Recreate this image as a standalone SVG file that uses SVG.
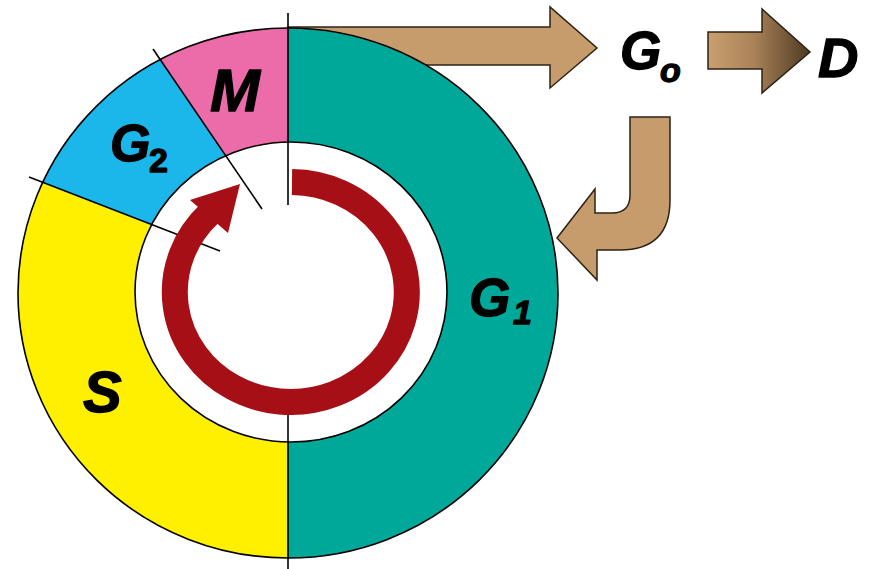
<svg xmlns="http://www.w3.org/2000/svg" width="870" height="569" viewBox="0 0 870 569">
  <style>
    .lbl { font-family: "Liberation Sans", Arial, sans-serif; font-weight: bold; font-style: italic; fill: #000; stroke: #000; stroke-width: 1.3; stroke-linejoin: round; }
    .edge { stroke: #000; stroke-width: 1.6; fill: none; }
    .tan { fill: #c69c6d; stroke: #2e2214; stroke-width: 1.5; stroke-linejoin: miter; }
  </style>
  <defs>
    <clipPath id="outerClip">
      <ellipse cx="288" cy="293" rx="270" ry="265"/>
    </clipPath>
    <linearGradient id="darkGrad" x1="0" y1="0" x2="1" y2="0">
      <stop offset="0" stop-color="#c9a06e"/>
      <stop offset="0.45" stop-color="#a98259"/>
      <stop offset="1" stop-color="#4e3923"/>
    </linearGradient>
  </defs>
  <rect width="870" height="569" fill="#ffffff"/>

  <!-- connector drawn behind the ring -->
  <g id="connectors-back">
    <polygon class="tan" points="288,27 550,27 550,7 597,48 550,88 550,65 288,65"/>
  </g>

  <g id="ring" clip-path="url(#outerClip)">
    <g id="phase-G1"><polygon points="288,0 870,0 870,569 288,569" fill="#00a89a"/></g>
    <g id="phase-M"><polygon points="120,0 288,0 288,247" fill="#ec6ca9"/></g>
    <g id="phase-G2"><polygon points="0,0 120,0 316,288 0,166" fill="#1cb7ea"/></g>
    <g id="phase-S"><polygon points="0,166 288,277 288,569 0,569" fill="#fff000"/></g>
  </g>
  <ellipse cx="288" cy="293" rx="270" ry="265" class="edge" stroke-width="2"/>
  <ellipse cx="291" cy="292" rx="156" ry="150" fill="#ffffff" stroke="#000" stroke-width="1.6"/>

  <g id="dividers">
    <line x1="288" y1="13" x2="288" y2="205" class="edge"/>
    <line x1="288" y1="415" x2="288" y2="569" class="edge"/>
    <line x1="153" y1="49" x2="262" y2="209" class="edge"/>
    <line x1="29" y1="177" x2="220" y2="251" class="edge"/>
  </g>

  <g id="cycle-arrow">
    <path d="M 292,182 A 116 110 0 1 1 209,214" fill="none" stroke="#a50f15" stroke-width="26"/>
    <polygon points="240,184 190,200 228,233" fill="#a50f15"/>
  </g>

  <g id="labels">
    <g id="label-M"><text class="lbl" x="210" y="111" font-size="60">M</text></g>
    <g id="label-G2"><text class="lbl" x="110" y="161" font-size="52">G<tspan x="149" y="172" font-size="34" font-style="normal">2</tspan></text></g>
    <g id="label-S"><text class="lbl" x="83" y="412" font-size="58">S</text></g>
    <g id="label-G1"><text class="lbl" x="469" y="316" font-size="53">G<tspan x="513" y="324" font-size="34">1</tspan></text></g>
    <g id="label-G0"><text class="lbl" x="620" y="69" font-size="53">G<tspan x="660" y="82" font-size="34">o</tspan></text></g>
    <g id="label-D"><text class="lbl" x="818" y="77" font-size="56">D</text></g>
  </g>

  <g id="connectors">
    <polygon points="708,32 762,32 762,9 810,52 762,93 762,69 708,69" fill="url(#darkGrad)" stroke="#2e2214" stroke-width="1.5"/>
    <path class="tan" d="M 630,117 L 670,117 L 670,200 Q 670,250 620,250 L 597,250 L 597,280 L 557,238 L 595,189 L 595,213 L 612,213 Q 630,213 630,195 Z"/>
  </g>
</svg>
